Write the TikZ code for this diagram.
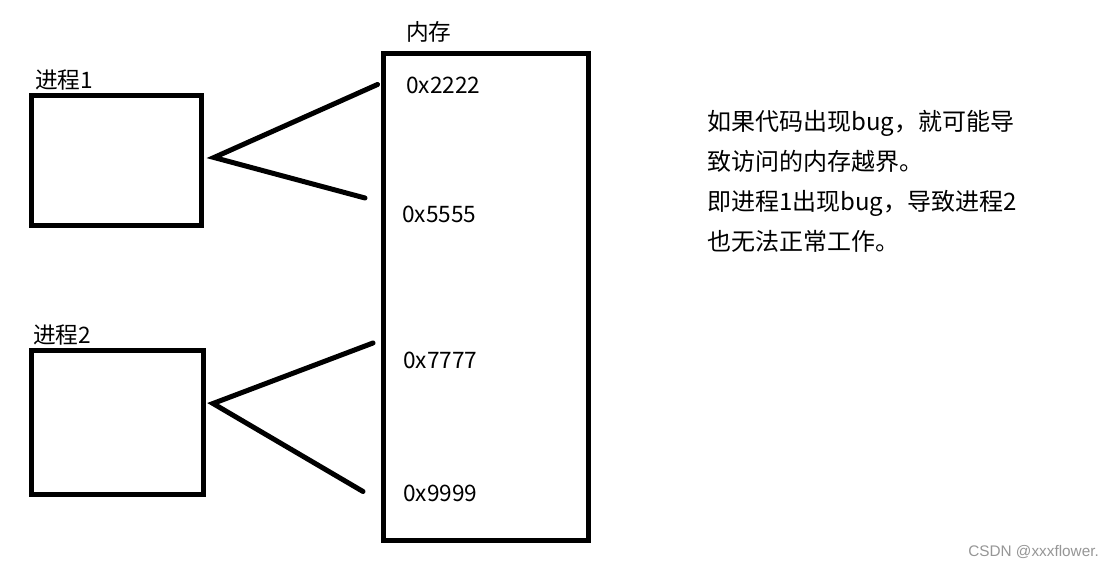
\documentclass[tikz,border=0pt]{standalone}
\usepackage{fontspec}
\newfontfamily\cjk{Noto Sans CJK SC}
\newfontfamily\wm{Liberation Sans}
\definecolor{wmgray}{RGB}{150,150,150}
\begin{document}
\begin{tikzpicture}[x=0.75pt,y=-0.75pt,
  boxstyle/.style={draw=black,line width=3.75pt,inner sep=0pt,outer sep=0pt},
  link/.style={draw=black,line width=3.75pt,line cap=round,line join=miter},
  lbl/.style={inner sep=0pt,anchor=base west,font={\cjk\fontsize{17}{20}\selectfont}},
  note/.style={inner sep=0pt,anchor=base west,font={\cjk\fontsize{18}{22}\selectfont}}]
\useasboundingbox (0,0) rectangle (1110,566);
\fill[white] (0,0) rectangle (1110,566);
% boxes
\node[boxstyle,minimum width=170*0.75pt,minimum height=130*0.75pt] (p1) at (116.5,160.5) {};
\node[boxstyle,minimum width=172.5*0.75pt,minimum height=144*0.75pt] (p2) at (117.25,422.5) {};
\node[boxstyle,minimum width=205.5*0.75pt,minimum height=486*0.75pt] (mem) at (485.75,297) {};
% labels
\node[lbl] (l1) at (35,89) {进程1};
\node[lbl] (l2) at (33,344) {进程2};
\node[lbl] (lm) at (406,41) {内存};
\node[lbl] (a1) at (406,94) {0x2222};
\node[lbl] (a2) at (402,223) {0x5555};
\node[lbl] (a3) at (403,369) {0x7777};
\node[lbl] (a4) at (403,501) {0x9999};
% connectors
\coordinate (c1) at (214,157.5);
\coordinate (c1u) at (377.5,84.5);
\coordinate (c1d) at (365,198);
\coordinate (c2) at (213,403.5);
\coordinate (c2u) at (373,343);
\coordinate (c2d) at (363,491.5);
\draw[link] (c1u) -- (c1) -- (c1d);
\draw[link] (c2u) -- (c2) -- (c2d);
% note
\node[note] (n1) at (707,131) {如果代码出现bug，就可能导};
\node[note] (n2) at (707,171) {致访问的内存越界。};
\node[note] (n3) at (707,211) {即进程1出现bug，导致进程2};
\node[note] (n4) at (707,251) {也无法正常工作。};
% watermark
\node[inner sep=0pt,anchor=base west,text=wmgray,font={\wm\fontsize{11.5}{13}\selectfont}] (wm) at (968,556) {CSDN @xxxflower.};
\end{tikzpicture}
\end{document}
